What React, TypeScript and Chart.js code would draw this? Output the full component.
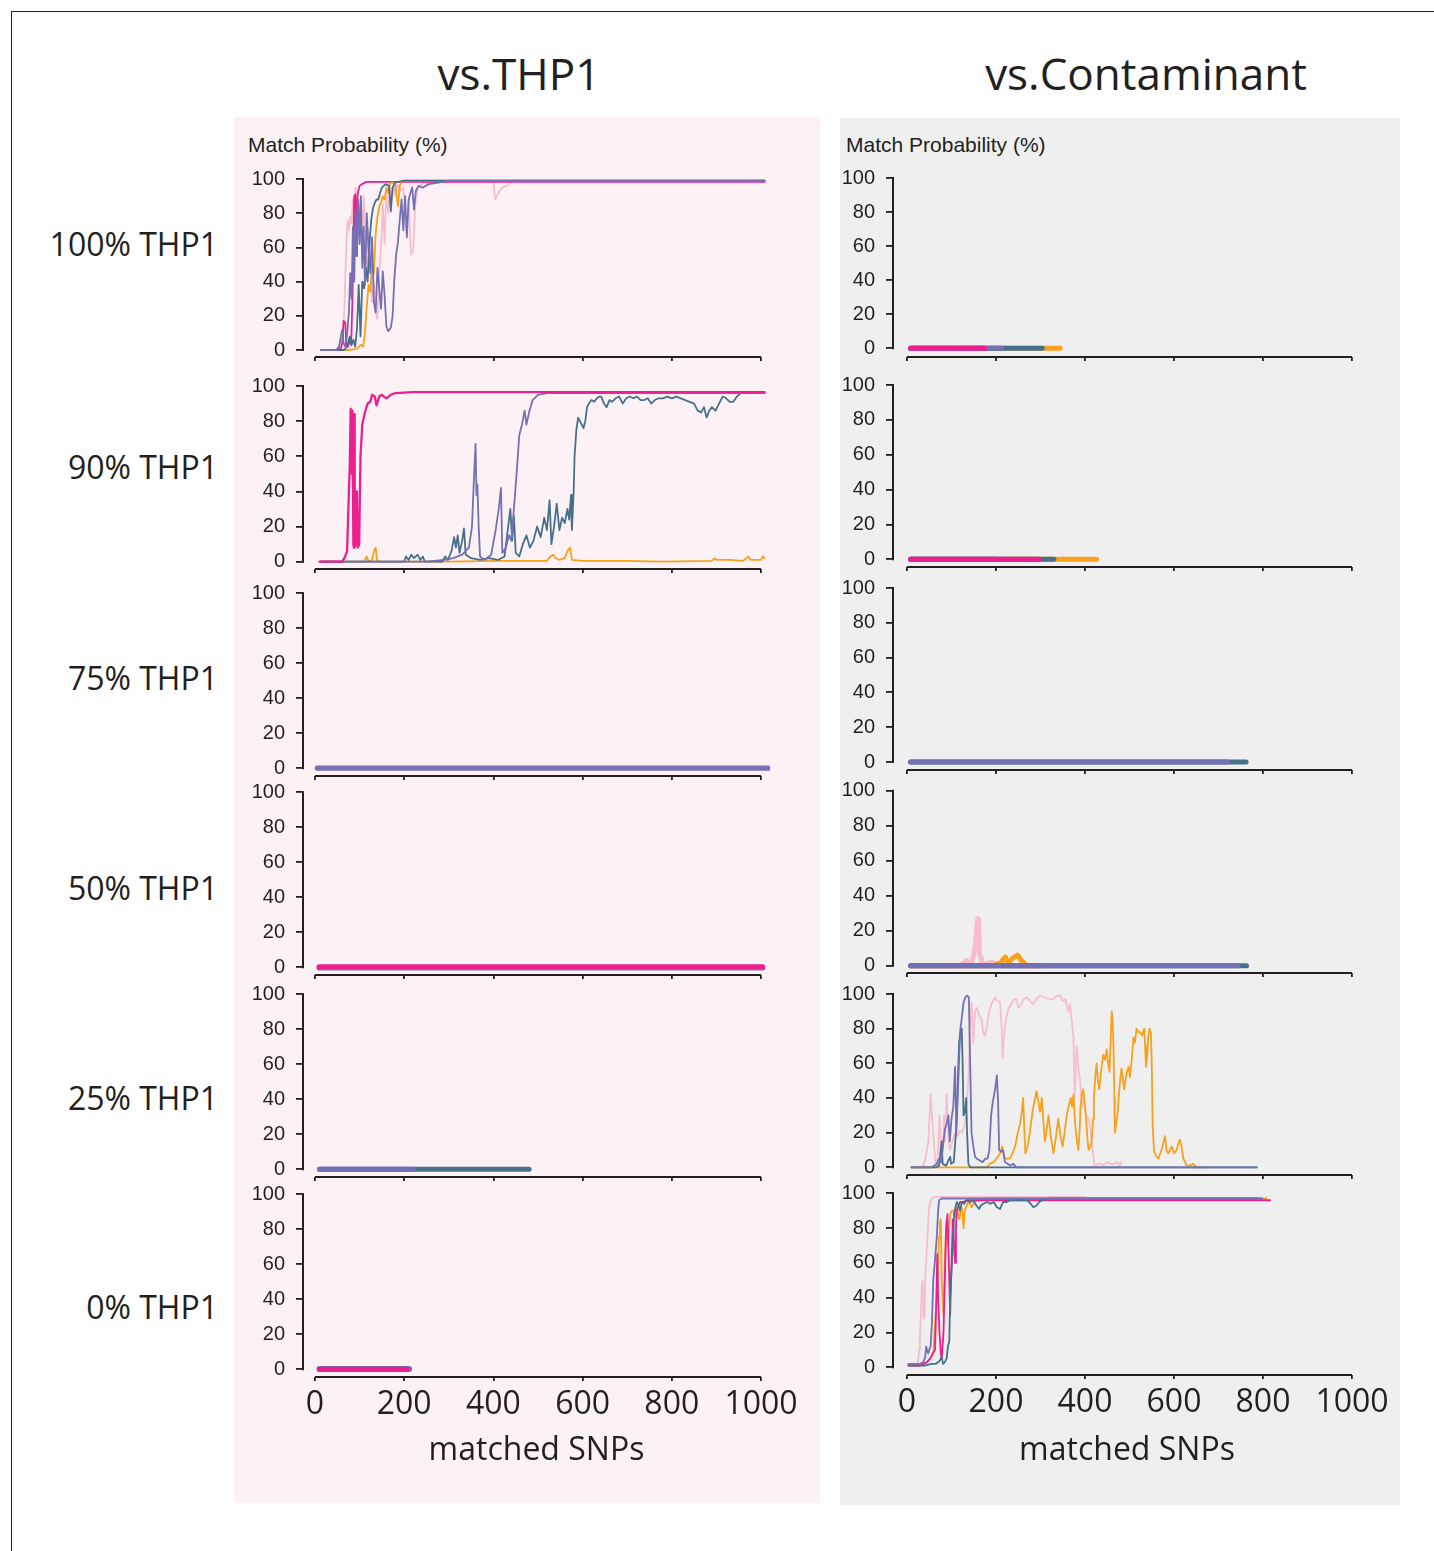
import React, { useEffect, useRef } from 'react';
import { Chart, registerables } from 'chart.js';
Chart.register(...registerables);

// ---------------- labels ----------------
const X_TICKS = [0, 200, 400, 600, 800, 1000];
const Y_TICKS = [0, 20, 40, 60, 80, 100];
const X_LABEL = 'matched SNPs';
const Y_LABEL = 'Match Probability (%)';
const PANEL_TITLES = ['vs.THP1', 'vs.Contaminant'];
const ROW_LABELS = ['100% THP1', '90% THP1', '75% THP1', '50% THP1', '25% THP1', '0% THP1'];

// ---------------- data: vs.THP1 ----------------
const THP_100_HOT = [[13,0],[50,0],[58,1],[62,5],[64,17],[68,16],[70,4],[74,2],[78,6],[81,3],[84,30],[86,60],[88,90],[90,91],[92,55],[94,88],[97,93],[100,96],[105,97],[115,98.3],[160,98.3],[1008,98.3]];
const THP_100_LIGHT = [[13,0],[45,0],[55,2],[62,8],[66,25],[70,60],[73,76],[76,70],[79,78],[82,74],[85,88],[88,80],[91,95],[94,84],[97,92],[100,70],[103,88],[106,62],[109,90],[112,75],[116,45],[120,70],[124,55],[128,28],[132,40],[136,22],[140,18],[144,45],[148,60],[152,85],[156,62],[160,92],[164,80],[168,95],[172,88],[176,96],[180,90],[186,97],[192,93],[198,95],[204,70],[210,88],[215,56],[220,58],[225,85],[230,95],[240,97],[260,98.5],[400,98.5],[404,88],[408,90],[414,93],[420,95],[430,96],[445,99],[1008,99]];
const THP_100_ORANGE = [[13,0],[80,0],[95,1],[102,3],[108,2],[112,10],[116,25],[120,38],[124,34],[128,50],[132,45],[136,68],[140,78],[144,84],[148,86],[152,90],[156,88],[160,95],[164,92],[168,97],[172,98],[180,97],[186,84],[190,96],[196,99],[1008,99]];
const THP_100_TEAL = [[13,0],[65,0],[72,2],[78,8],[82,3],[86,6],[90,2],[94,12],[98,38],[102,8],[106,40],[110,36],[114,48],[118,40],[122,62],[126,76],[130,83],[134,86],[138,88],[142,88],[146,92],[150,95],[158,97],[166,96],[170,81],[174,95],[180,98],[200,99],[1008,99]];
const THP_100_PURPLE = [[13,0],[48,0],[54,2],[58,8],[61,12],[64,4],[68,2],[72,9],[76,22],[79,45],[82,30],[85,72],[88,40],[91,82],[94,55],[97,88],[100,62],[103,90],[106,48],[109,72],[112,38],[116,80],[120,60],[124,45],[128,66],[132,28],[136,22],[140,48],[144,36],[148,24],[152,46],[156,32],[160,14],[164,11],[170,13],[174,20],[178,42],[182,56],[186,63],[190,76],[194,88],[198,70],[202,90],[206,66],[210,88],[214,92],[218,95],[222,82],[226,93],[232,96],[242,95],[255,97],[280,98],[300,99],[1008,99]];

const THP_90_HOT = [[10,0],[60,0],[66,2],[72,6],[76,40],[78,55],[80,87],[82,50],[84,86],[86,10],[87,8],[88,84],[89,8],[92,10],[94,40],[96,8],[99,10],[102,60],[106,78],[112,85],[118,90],[124,91],[128,95],[134,94],[138,89],[144,94],[150,95],[160,93],[170,95],[180,96],[220,96.5],[1008,96.5]];
const THP_90_ORANGE = [[13,0],[110,0],[116,3],[120,0],[128,1],[132,6],[136,8],[139,1],[145,0],[300,0],[400,0.5],[520,0.5],[528,3],[534,4],[540,2],[548,1],[560,2],[566,6],[572,8],[576,1],[600,0.5],[700,0.5],[780,0],[890,0.5],[896,2],[900,1],[930,1],[960,0.5],[972,3],[976,1],[1000,1],[1004,3],[1008,2]];
const THP_90_PURPLE = [[13,0],[250,0],[290,1],[310,2],[330,4],[345,8],[352,20],[356,45],[360,67],[362,38],[364,44],[367,20],[370,3],[380,1],[395,4],[405,18],[412,30],[417,42],[420,5],[428,8],[435,15],[440,12],[446,30],[452,50],[458,72],[464,78],[470,86],[474,78],[480,85],[488,92],[500,95],[520,96],[560,96],[1008,96]];
const THP_90_TEAL = [[13,0],[200,0],[204,3],[210,1],[216,4],[222,2],[230,4],[236,1],[242,3],[246,0],[285,0],[292,3],[298,1],[306,6],[312,14],[316,8],[320,15],[324,5],[330,12],[334,19],[338,4],[350,2],[370,1],[390,2],[410,1],[425,3],[434,22],[438,30],[442,12],[446,26],[450,5],[458,3],[466,10],[474,15],[482,8],[490,12],[498,20],[506,14],[514,25],[520,18],[526,35],[530,10],[536,20],[542,33],[548,18],[554,25],[560,22],[566,30],[570,24],[574,38],[576,18],[580,40],[582,60],[586,75],[590,82],[594,80],[598,78],[602,76],[606,80],[610,88],[614,90],[620,92],[626,91],[632,93],[638,94],[642,94],[648,90],[654,88],[660,92],[666,91],[674,93],[682,94],[690,90],[698,93],[706,94],[714,93],[722,94],[730,92],[738,92],[746,93],[754,90],[762,92],[770,93],[780,93],[790,94],[800,93],[810,94],[820,93],[830,92],[840,91],[850,90],[858,86],[866,85],[872,88],[878,82],[884,86],[890,88],[898,86],[906,90],[914,94],[922,93],[930,91],[938,91],[946,94],[954,96],[1008,96]];

const THP_75_HOT = [[5,0.6],[1016,0.6]];
const THP_75_PURPLE = [[5,0],[1016,0]];
const THP_50_HOT = [[9,0.3],[1004,0.3]];
const THP_50_PURPLE = [[9,-0.4],[1004,-0.4]];
const THP_25_PURPLE = [[10,0],[220,0]];
const THP_25_TEAL = [[10,0],[480,0]];
const THP_0_HOT = [[10,0],[207,0]];
const THP_0_PURPLE = [[10,0.2],[211,0.2]];

// ---------------- data: vs.Contaminant ----------------
const CON_100_HOT = [[8,0],[175,0]];
const CON_100_PURPLE = [[8,0],[213,0]];
const CON_100_TEAL = [[8,0],[304,0]];
const CON_100_ORANGE = [[8,0],[344,0]];

const CON_90_HOT = [[8,0],[297,0]];
const CON_90_PURPLE = [[8,0],[200,0]];
const CON_90_TEAL = [[8,0],[330,0]];
const CON_90_ORANGE = [[8,0],[426,0]];

const CON_75_PURPLE = [[8,0],[721,0]];
const CON_75_TEAL = [[8,0],[762,0]];

const CON_50_PURPLE = [[8,0],[744,0]];
const CON_50_TEAL = [[8,0],[763,0]];
const CON_50_ORANGE = [[8,0],[195,0],[205,1],[212,2],[217,4],[221,5],[224,3],[230,2],[236,4],[242,5],[248,6],[252,5],[256,3],[262,2],[268,0],[300,0]];
const CON_50_LIGHT = [[8,0],[118,0],[124,1],[130,2],[134,3],[138,1],[144,1],[150,6],[154,14],[157,22],[159,27],[161,26],[163,6],[166,5],[170,1],[180,1],[186,2],[192,2],[200,1],[215,0],[300,0]];

const CON_25_LIGHT = [[10,0],[30,0],[37,1],[42,6],[48,15],[53,42],[56,30],[59,20],[63,5],[67,0],[70,10],[73,30],[76,12],[78,4],[81,18],[83,30],[86,15],[89,42],[92,25],[95,12],[97,10],[102,15],[108,20],[114,18],[119,21],[124,20],[130,25],[134,35],[138,50],[141,80],[145,95],[149,72],[153,90],[157,92],[162,88],[168,85],[171,78],[175,76],[179,80],[183,88],[187,92],[193,96],[198,98],[204,96],[209,95],[213,80],[215,63],[218,75],[222,85],[228,92],[234,94],[240,97],[246,97],[250,92],[256,94],[262,97],[269,98],[276,96],[284,94],[290,97],[299,99],[310,98],[320,97],[329,97],[336,99],[344,99],[350,96],[356,97],[362,90],[366,94],[370,85],[374,75],[377,40],[381,70],[386,55],[389,50],[393,35],[396,40],[402,30],[408,28],[412,22],[415,15],[418,8],[422,0],[428,2],[434,2],[440,1],[449,3],[456,2],[464,2],[472,3],[478,1],[482,3]];
const CON_25_PURPLE = [[10,0],[55,0],[62,1],[67,2],[72,5],[76,3],[80,10],[85,22],[89,25],[93,30],[96,15],[100,28],[104,35],[108,58],[111,20],[114,40],[117,62],[120,80],[124,88],[127,95],[131,98],[135,99],[139,98],[142,60],[145,20],[149,12],[153,6],[157,5],[163,4],[170,3],[176,5],[181,5],[185,10],[189,30],[193,38],[198,45],[202,53],[205,35],[207,10],[211,9],[216,10],[220,3],[226,2],[232,1],[239,2],[246,0],[265,0],[786,0]];
const CON_25_TEAL = [[10,0],[66,0],[72,1],[75,8],[78,15],[80,2],[88,1],[95,5],[97,6],[99,2],[105,3],[110,20],[114,48],[117,72],[120,78],[123,80],[125,60],[127,30],[130,32],[133,40],[135,20],[138,2],[142,0],[786,0]];
const CON_25_ORANGE = [[10,0],[180,0],[186,2],[195,3],[204,6],[209,8],[214,12],[218,6],[224,5],[231,5],[237,8],[243,12],[249,20],[254,25],[258,32],[261,40],[264,20],[266,8],[271,12],[276,20],[280,28],[284,35],[288,40],[291,44],[295,38],[299,32],[303,40],[306,28],[310,15],[314,22],[318,30],[323,18],[329,8],[334,16],[340,28],[345,18],[350,12],[355,22],[359,30],[364,36],[368,40],[371,35],[374,42],[378,25],[382,15],[385,10],[388,22],[390,35],[393,42],[396,45],[399,38],[402,30],[405,18],[408,10],[412,12],[415,15],[418,28],[420,40],[423,52],[426,60],[429,50],[432,45],[436,55],[441,65],[445,62],[449,68],[452,60],[455,55],[458,75],[460,90],[462,85],[464,70],[466,40],[467,20],[470,25],[473,30],[477,45],[482,57],[485,52],[488,45],[491,50],[494,55],[498,58],[501,52],[505,62],[509,75],[512,72],[516,80],[520,78],[524,78],[528,76],[533,80],[535,70],[537,58],[540,65],[542,75],[545,80],[548,78],[550,60],[552,25],[555,10],[557,8],[561,6],[565,5],[569,8],[572,10],[576,14],[580,18],[583,10],[587,8],[591,10],[595,12],[600,8],[606,10],[610,14],[613,16],[617,12],[621,5],[625,3],[628,1],[635,1],[643,2],[651,0],[666,0]];

const CON_0_PURPLE = [[3,2],[30,2],[37,3],[41,6],[43,12],[46,9],[48,8],[51,11],[53,12],[56,25],[59,50],[63,62],[67,75],[70,90],[72,96],[78,97],[90,97],[798,97]];
const CON_0_TEAL = [[3,1],[40,1],[55,2],[65,2],[70,3],[74,4],[78,6],[81,2],[85,3],[89,5],[92,12],[95,15],[97,40],[100,55],[103,70],[106,88],[109,92],[112,95],[116,93],[119,90],[123,95],[128,94],[134,96],[142,95],[149,96],[156,93],[162,91],[166,93],[172,94],[180,95],[187,94],[195,95],[202,92],[209,91],[216,95],[224,95],[232,96],[240,96],[255,96],[270,96],[278,94],[284,92],[291,93],[297,95],[303,96],[320,97],[336,97],[790,97]];
const CON_0_HOT = [[3,1],[30,1],[45,3],[52,5],[58,8],[63,10],[66,40],[68,65],[70,40],[73,20],[76,8],[78,5],[82,20],[86,60],[88,80],[91,88],[94,60],[97,30],[100,60],[103,85],[106,70],[108,60],[110,80],[112,90],[116,93],[119,95],[126,95],[134,96],[150,96],[816,96]];
const CON_0_ORANGE = [[3,2],[40,2],[44,3],[52,5],[59,8],[63,25],[67,40],[70,60],[72,75],[74,84],[76,85],[78,50],[80,40],[82,30],[85,60],[87,75],[89,85],[92,70],[95,80],[97,88],[101,90],[104,90],[108,86],[112,92],[115,88],[118,85],[121,90],[123,92],[125,88],[127,80],[130,90],[134,93],[138,95],[142,94],[145,92],[151,95],[157,96],[170,96],[179,97],[808,97]];
const CON_0_LIGHT = [[3,1],[20,1],[25,3],[27,10],[29,20],[31,28],[33,45],[35,50],[37,30],[39,28],[41,50],[43,60],[46,75],[49,90],[52,95],[56,97],[60,98],[400,98]];

// ---------------- styles ----------------
const INK = '#231f20';
const COLORS: Record<string, string> = {
  hot: '#ec1f8e',
  light: '#f8bdcc',
  orange: '#f9a11b',
  teal: '#47708b',
  purple: '#7470b6',
};
const THIN = 1.8;
const THICK = 5;

type SeriesSpec = { data: number[][]; color: string; width: number };
type PanelSpec = { col: number; row: number; series: SeriesSpec[] };
const S = (data: number[][], color: string, width = THIN): SeriesSpec => ({ data, color, width });

// series listed top-most first
const PANELS: PanelSpec[] = [
  { col: 0, row: 0, series: [S(THP_100_PURPLE, 'purple'), S(THP_100_TEAL, 'teal'), S(THP_100_ORANGE, 'orange'), S(THP_100_HOT, 'hot'), S(THP_100_LIGHT, 'light')] },
  { col: 0, row: 1, series: [S(THP_90_HOT, 'hot', 2.3), S(THP_90_PURPLE, 'purple'), S(THP_90_TEAL, 'teal'), S(THP_90_ORANGE, 'orange')] },
  { col: 0, row: 2, series: [S(THP_75_PURPLE, 'purple', THICK), S(THP_75_HOT, 'light', THICK)] },
  { col: 0, row: 3, series: [S(THP_50_HOT, 'hot', THICK), S(THP_50_PURPLE, 'purple', THICK)] },
  { col: 0, row: 4, series: [S(THP_25_PURPLE, 'purple', THICK), S(THP_25_TEAL, 'teal', THICK)] },
  { col: 0, row: 5, series: [S(THP_0_HOT, 'hot', THICK), S(THP_0_PURPLE, 'purple', THICK + 1)] },
  { col: 1, row: 0, series: [S(CON_100_HOT, 'hot', THICK), S(CON_100_PURPLE, 'purple', THICK), S(CON_100_TEAL, 'teal', THICK), S(CON_100_ORANGE, 'orange', THICK)] },
  { col: 1, row: 1, series: [S(CON_90_HOT, 'hot', THICK), S(CON_90_PURPLE, 'purple', THICK), S(CON_90_TEAL, 'teal', THICK), S(CON_90_ORANGE, 'orange', THICK)] },
  { col: 1, row: 2, series: [S(CON_75_PURPLE, 'purple', THICK), S(CON_75_TEAL, 'teal', THICK)] },
  { col: 1, row: 3, series: [S(CON_50_PURPLE, 'purple', THICK), S(CON_50_TEAL, 'teal', THICK), S(CON_50_ORANGE, 'orange', THICK), S(CON_50_LIGHT, 'light', THICK)] },
  { col: 1, row: 4, series: [S(CON_25_PURPLE, 'purple'), S(CON_25_TEAL, 'teal'), S(CON_25_ORANGE, 'orange'), S(CON_25_LIGHT, 'light')] },
  { col: 1, row: 5, series: [S(CON_0_PURPLE, 'purple'), S(CON_0_TEAL, 'teal'), S(CON_0_HOT, 'hot'), S(CON_0_ORANGE, 'orange'), S(CON_0_LIGHT, 'light')] },
];

// ---------------- layout ----------------
const COL_GEOM = [
  { spine: 303, x0: 315, x1000: 761 },
  { spine: 893, x0: 907, x1000: 1352 },
];
const ROW_GEOM = [
  [
    { y100: 179, y0: 350, axis: 357 },
    { y100: 386, y0: 561.7, axis: 569 },
    { y100: 593.3, y0: 768.3, axis: 775.7 },
    { y100: 792.3, y0: 967.3, axis: 975 },
    { y100: 994.3, y0: 1169.3, axis: 1176.7 },
    { y100: 1194.3, y0: 1369.3, axis: 1377.3 },
  ],
  [
    { y100: 178, y0: 348.3, axis: 357.3 },
    { y100: 385, y0: 559.3, axis: 566.7 },
    { y100: 588, y0: 762, axis: 770 },
    { y100: 790.7, y0: 965.7, axis: 973.3 },
    { y100: 994, y0: 1167.3, axis: 1175 },
    { y100: 1193.3, y0: 1367.3, axis: 1375 },
  ],
];
const YAXIS_W = 60;
const PAD_TOP = 14;
const PAD_RIGHT = 45;
const X_END = 1020;
const Y_END = 104;
const BOTTOM_Y = 1470;

function geom(col: number, row: number) {
  const c = COL_GEOM[col];
  const r = ROW_GEOM[col][row];
  const isBottom = row === 5;
  const pxX = (c.x1000 - c.x0) / 1000;
  const plotW = Math.round(c.x0 + X_END * pxX - c.spine);
  const left = c.spine - YAXIS_W;
  const width = YAXIS_W + plotW + PAD_RIGHT;
  const xmin = (c.spine - c.x0) / pxX;
  const xmax = (c.spine + plotW - c.x0) / pxX;
  const pxY = (r.y0 - r.y100) / 100;
  const axis = Math.round(r.axis);
  const topPlot = Math.round(r.y0 - Y_END * pxY);
  const top = topPlot - PAD_TOP;
  const xAxisH = isBottom ? BOTTOM_Y - axis : 8;
  const height = PAD_TOP + (axis - topPlot) + xAxisH;
  const ymax = (r.y0 - topPlot) / pxY;
  const ymin = (r.y0 - axis) / pxY;
  return { left, top, width, height, xmin, xmax, ymin, ymax, xAxisH, isBottom };
}

const spinePlugin = {
  id: 'spines',
  beforeDatasetsDraw(chart: any) {
    const { ctx, chartArea, scales } = chart;
    const x = scales.x;
    const y = scales.y;
    ctx.save();
    ctx.strokeStyle = INK;
    ctx.lineWidth = 2;
    ctx.beginPath();
    ctx.moveTo(chartArea.left, y.getPixelForValue(Y_TICKS[Y_TICKS.length - 1]) - 1);
    ctx.lineTo(chartArea.left, y.getPixelForValue(Y_TICKS[0]) + 1);
    ctx.moveTo(x.getPixelForValue(X_TICKS[0]), chartArea.bottom);
    ctx.lineTo(x.getPixelForValue(X_TICKS[X_TICKS.length - 1]), chartArea.bottom);
    ctx.stroke();
    ctx.restore();
  },
};

const zeroPad = (s: any) => {
  s.paddingTop = 0;
  s.paddingBottom = 0;
  s.paddingLeft = 0;
  s.paddingRight = 0;
};

function Panel({ spec }: { spec: PanelSpec }) {
  const ref = useRef<HTMLCanvasElement>(null);
  const g = geom(spec.col, spec.row);
  useEffect(() => {
    const chart = new Chart(ref.current as HTMLCanvasElement, {
      type: 'line',
      data: {
        datasets: spec.series.map((s) => ({
          data: s.data.map(([x, y]) => ({ x, y })),
          borderColor: COLORS[s.color],
          backgroundColor: COLORS[s.color],
          borderWidth: s.width,
          pointRadius: 0,
          tension: 0,
          fill: false,
          borderCapStyle: 'round',
          borderJoinStyle: 'round',
        })),
      } as any,
      options: {
        animation: false,
        responsive: false,
        maintainAspectRatio: false,
        events: [],
        layout: { padding: { top: PAD_TOP, right: PAD_RIGHT, bottom: 0, left: 0 } },
        plugins: { legend: { display: false }, tooltip: { enabled: false } },
        scales: {
          x: {
            type: 'linear',
            position: 'bottom',
            min: g.xmin,
            max: g.xmax,
            afterBuildTicks: (s: any) => {
              s.ticks = X_TICKS.map((v) => ({ value: v }));
            },
            afterFit: (s: any) => {
              s.height = g.xAxisH;
              zeroPad(s);
            },
            border: { display: false },
            grid: { drawOnChartArea: false, drawTicks: true, tickLength: 4, color: INK, lineWidth: 1.8 },
            ticks: {
              display: g.isBottom,
              autoSkip: false,
              maxRotation: 0,
              padding: 5,
              color: INK,
              font: { family: "'Open Sans', sans-serif", size: 32 },
              callback: (v: any) => String(v),
            },
            title: {
              display: g.isBottom,
              text: X_LABEL,
              color: INK,
              padding: 0,
              font: { family: "'Open Sans', sans-serif", size: 32 },
            },
          },
          y: {
            type: 'linear',
            min: g.ymin,
            max: g.ymax,
            afterBuildTicks: (s: any) => {
              s.ticks = Y_TICKS.map((v) => ({ value: v }));
            },
            afterFit: (s: any) => {
              s.width = YAXIS_W;
              zeroPad(s);
            },
            border: { display: false },
            grid: { drawOnChartArea: false, drawTicks: true, tickLength: 7, color: INK, lineWidth: 1.8 },
            ticks: {
              padding: 11,
              color: INK,
              font: { family: "'Liberation Sans', Arial, sans-serif", size: 20 },
              callback: (v: any) => String(v),
            },
          },
        },
      } as any,
      plugins: [spinePlugin],
    });
    return () => chart.destroy();
  }, []);
  return (
    <canvas
      ref={ref}
      width={g.width}
      height={g.height}
      style={{ position: 'absolute', left: g.left, top: g.top, width: g.width, height: g.height }}
    />
  );
}

const TITLE_X = [519, 1146];
const ROW_BASELINES = [256, 479, 690, 900, 1110, 1319];
const YLABEL_X = [248, 846];

export default function App() {
  const sans = "'Open Sans', sans-serif";
  return (
    <div style={{ position: 'absolute', left: 0, top: 0, width: 1434, height: 1551, background: '#fff', overflow: 'hidden' }}>
      <div style={{ position: 'absolute', left: 11, top: 11, width: 1430, height: 1545, borderTop: `1.5px solid ${INK}`, borderLeft: `1.5px solid ${INK}` }} />
      <div style={{ position: 'absolute', left: 234, top: 117, width: 586, height: 1386, background: '#fcf2f6' }} />
      <div style={{ position: 'absolute', left: 840, top: 118, width: 560, height: 1387, background: '#efefef' }} />
      {PANELS.map((p) => (
        <Panel key={`${p.col}-${p.row}`} spec={p} />
      ))}
      {PANEL_TITLES.map((t, i) => (
        <div key={t} style={{ position: 'absolute', left: TITLE_X[i], top: 51, transform: 'translateX(-50%)', whiteSpace: 'nowrap', font: `44px/44px ${sans}`, color: INK }}>
          {t}
        </div>
      ))}
      {ROW_LABELS.map((t, i) => (
        <div key={t} style={{ position: 'absolute', left: 0, width: 218, top: ROW_BASELINES[i] - 28.4, textAlign: 'right', whiteSpace: 'nowrap', font: `32px/32px ${sans}`, color: INK }}>
          {t}
        </div>
      ))}
      {YLABEL_X.map((x) => (
        <div key={x} style={{ position: 'absolute', left: x, top: 134, whiteSpace: 'nowrap', font: `21px/21px 'Liberation Sans', Arial, sans-serif`, color: INK }}>
          {Y_LABEL}
        </div>
      ))}
    </div>
  );
}
